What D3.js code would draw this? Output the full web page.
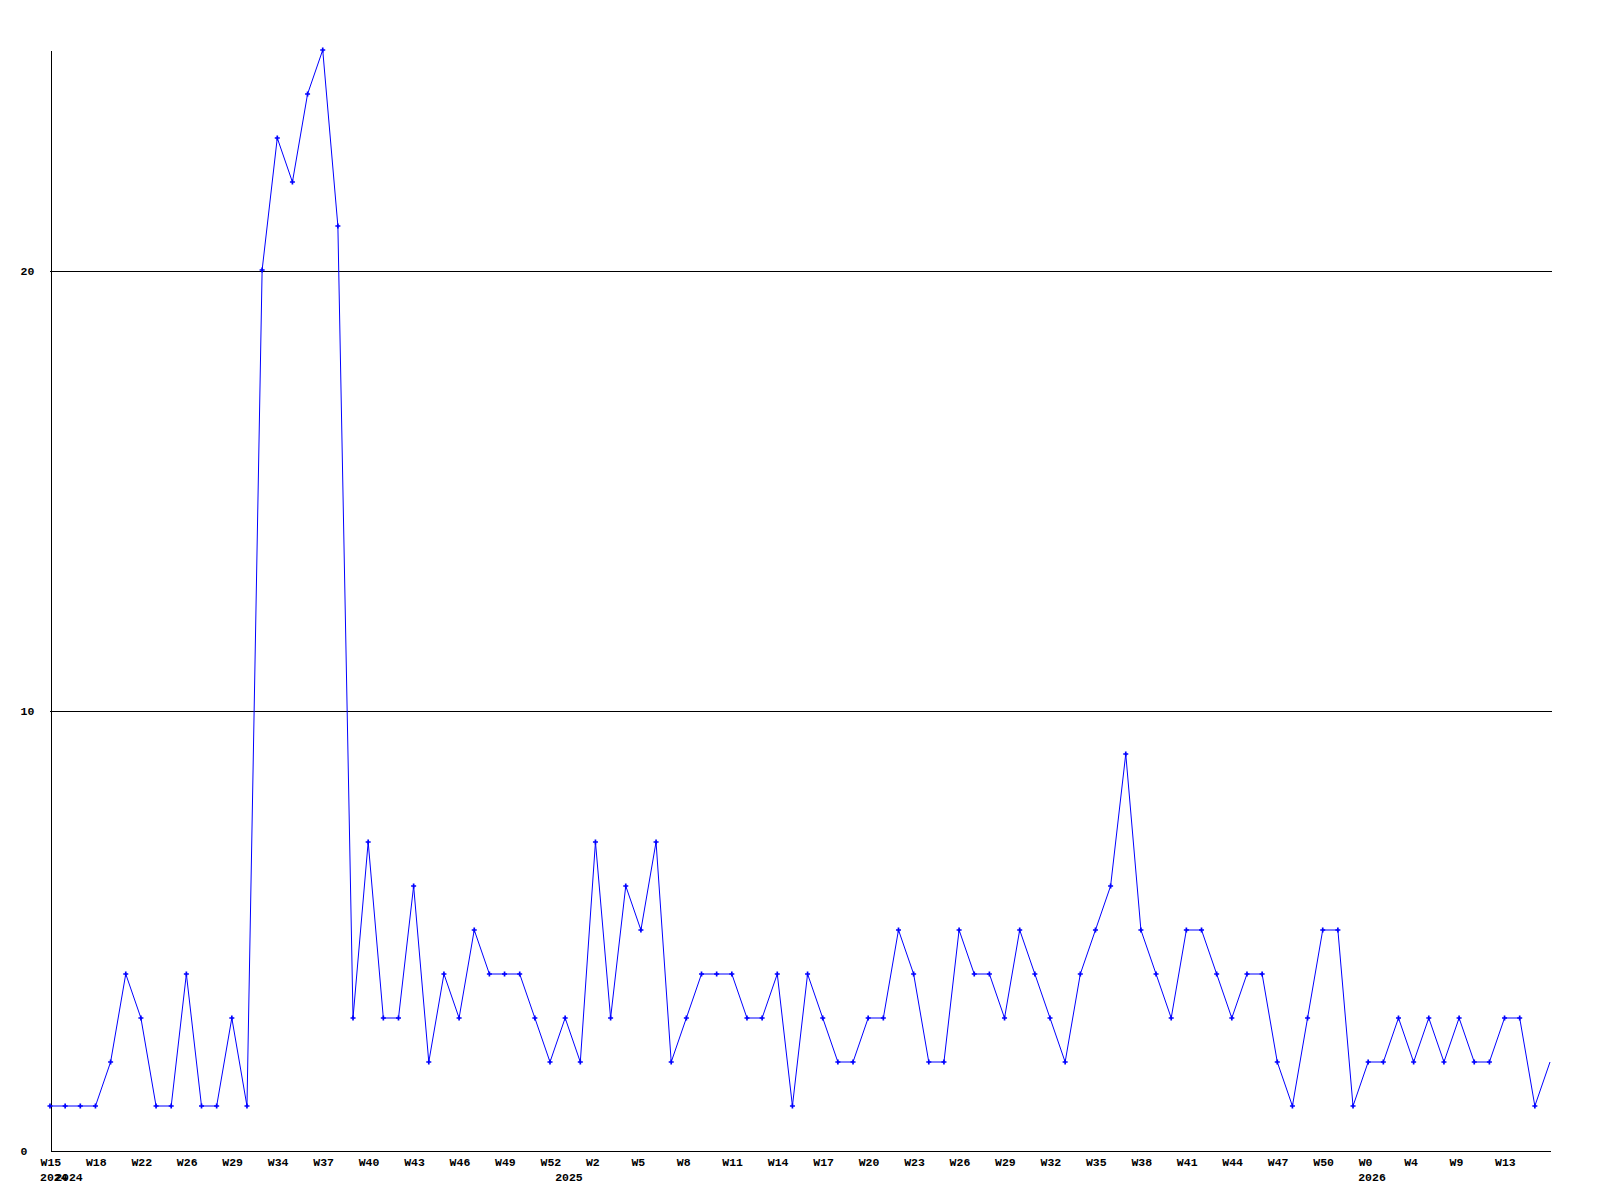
<!DOCTYPE html>
<html>
<head>
<meta charset="utf-8">
<script src="https://cdn.jsdelivr.net/npm/d3@7"></script>
<style>
  body { margin: 0; background: #fff; }
  svg text { font-family: "Liberation Mono", "DejaVu Sans Mono", monospace; font-size: 11.5px; font-weight: bold; fill: #000; }
</style>
</head>
<body>
<svg width="1600" height="1200"></svg>
<script>
// weekly counts, W15 2024 .. W15 2026
const counts = [
  1, 1, 1, 1, 2, 4, 3, 1, 1, 4,
  1, 1, 3, 1, 20, 23, 22, 24, 25, 21,
  3, 7, 3, 3, 6, 2, 4, 3, 5, 4,
  4, 4, 3, 2, 3, 2, 7, 3, 6, 5,
  7, 2, 3, 4, 4, 4, 3, 3, 4, 1,
  4, 3, 2, 2, 3, 3, 5, 4, 2, 2,
  5, 4, 4, 3, 5, 4, 3, 2, 4, 5,
  6, 9, 5, 4, 3, 5, 5, 4, 3, 4,
  4, 2, 1, 3, 5, 5, 1, 2, 2, 3,
  2, 3, 2, 3, 2, 2, 3, 3, 1, 2
];

// one label every third point
const weekLabels = ['W15', 'W18', 'W22', 'W26', 'W29', 'W34', 'W37', 'W40', 'W43', 'W46', 'W49',
  'W52', 'W2', 'W5', 'W8', 'W11', 'W14', 'W17', 'W20', 'W23', 'W26', 'W29', 'W32',
  'W35', 'W38', 'W41', 'W44', 'W47', 'W50', 'W0', 'W4', 'W9', 'W13'];

const yearLabels = ['2024', '2024', '2025', '2026'];
const yearIndex = [0, 1, 34, 87];

const yTicks = [0, 10, 20];

const svg = d3.select('svg');

const plotLeft = 50, plotRight = 1550, plotTop = 50, plotBottom = 1150;

const xScale = d3.scaleLinear()
  .domain([0, counts.length - 1])
  .range([plotLeft, plotRight]);

const yScale = d3.scaleLinear()
  .domain([0, 25])
  .range([plotBottom, plotTop]);

// horizontal grid lines
svg.append('g')
  .attr('transform', `translate(${plotLeft - 0.5}, 0.5)`)
  .call(d3.axisLeft(yScale)
    .tickValues([10, 20])
    .tickSize(-(plotRight - plotLeft + 2))
    .tickFormat(''))
  .call(g => g.select('.domain').remove())
  .selectAll('line')
  .attr('stroke', '#000')
  .attr('shape-rendering', 'crispEdges');

// left axis line + labels
const yAxis = svg.append('g')
  .attr('transform', `translate(${plotLeft + 0.5}, 0)`)
  .call(d3.axisLeft(yScale).tickValues(yTicks).tickSize(0).tickSizeOuter(0));

yAxis.select('.domain')
  .attr('stroke', '#000')
  .attr('shape-rendering', 'crispEdges');

yAxis.selectAll('text')
  .attr('text-anchor', 'start')
  .attr('x', 20 - plotLeft)
  .attr('dy', '0.36em');

// bottom axis, labels start 10px left of their point
const xAxis = svg.append('g')
  .attr('transform', `translate(0, ${plotBottom + 0.5})`)
  .call(d3.axisBottom(xScale)
    .tickValues(weekLabels.map((w, i) => i * 3))
    .tickFormat((d, i) => weekLabels[i])
    .tickSize(0)
    .tickSizeOuter(0));

xAxis.select('.domain')
  .attr('stroke', '#000')
  .attr('shape-rendering', 'crispEdges');

xAxis.selectAll('text')
  .attr('text-anchor', 'start')
  .attr('x', -10)
  .attr('y', 15.5)
  .attr('dy', 0);

svg.append('g')
  .selectAll('text')
  .data(yearLabels)
  .enter()
  .append('text')
  .attr('x', (d, i) => xScale(yearIndex[i]) - 10)
  .attr('y', 1181)
  .text(d => d);

// series
const line = d3.line()
  .x((d, i) => xScale(i))
  .y(d => yScale(d));

svg.append('path')
  .datum(counts)
  .attr('fill', 'none')
  .attr('stroke', '#0000ff')
  .attr('stroke-width', 1)
  .attr('d', line);

// markers (the current, unfinished week has none)
svg.append('g')
  .selectAll('path')
  .data(counts.slice(0, -1))
  .enter()
  .append('path')
  .attr('transform', (d, i) => `translate(${xScale(i)}, ${yScale(d)})`)
  .attr('d', d3.symbol().type(d3.symbolCross).size(14))
  .attr('fill', '#0000ff');
</script>
</body>
</html>
